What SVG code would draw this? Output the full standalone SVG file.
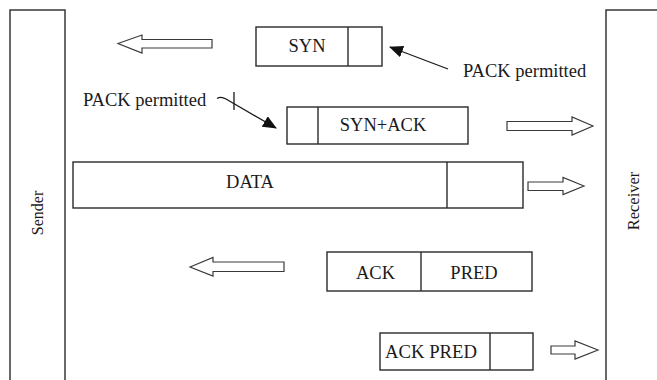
<svg xmlns="http://www.w3.org/2000/svg" width="657" height="380" viewBox="0 0 657 380">
<style>
.b{fill:#fff;stroke:#2a2a2a;stroke-width:1.4}
.d{stroke:#2a2a2a;stroke-width:1.4;fill:none}
.ba{fill:#fff;stroke:#3a3a3a;stroke-width:1.2;stroke-linejoin:miter}
.ln{stroke:#1a1a1a;stroke-width:1.3;fill:none}
</style>
<defs>
<marker id="ah2" viewBox="0 0 14 12" refX="13" refY="6" markerWidth="14" markerHeight="12" markerUnits="userSpaceOnUse" orient="auto">
<path d="M0,0 L14,6 L0,12 Z" fill="#111"/>
</marker>
</defs>
<rect width="657" height="380" fill="#fff"/>

<g id="sender">
<rect class="b" x="10" y="10" width="55" height="380"/>
<text style="font-family:'Liberation Serif',serif" font-size="16" fill="#1a1a1a" text-anchor="middle" transform="translate(42.5,213) rotate(-90)">Sender</text>
</g>

<g id="receiver">
<rect class="b" x="606" y="10" width="60" height="380"/>
<text style="font-family:'Liberation Serif',serif" font-size="16.5" fill="#1a1a1a" text-anchor="middle" transform="translate(638.5,201) rotate(-90)">Receiver</text>
</g>

<g id="syn">
<rect class="b" x="256" y="27" width="126" height="39"/>
<line class="d" x1="348" y1="27" x2="348" y2="66"/>
<text style="font-family:'Liberation Serif',serif" font-size="18.5" fill="#1a1a1a" x="307" y="52" text-anchor="middle">SYN</text>
</g>

<g id="synack">
<rect class="b" x="287" y="107" width="181" height="37"/>
<line class="d" x1="318" y1="107" x2="318" y2="144"/>
<text style="font-family:'Liberation Serif',serif" font-size="18.5" fill="#1a1a1a" x="383" y="130.5" text-anchor="middle">SYN+ACK</text>
</g>

<g id="data">
<rect class="b" x="73" y="162" width="450" height="46"/>
<line class="d" x1="447" y1="162" x2="447" y2="208"/>
<text style="font-family:'Liberation Serif',serif" font-size="18.5" fill="#1a1a1a" x="250" y="188" text-anchor="middle">DATA</text>
</g>

<g id="ackpred">
<rect class="b" x="327" y="252" width="205" height="39"/>
<line class="d" x1="421" y1="252" x2="421" y2="291"/>
<text style="font-family:'Liberation Serif',serif" font-size="18.5" fill="#1a1a1a" x="375.5" y="279" text-anchor="middle">ACK</text>
<text style="font-family:'Liberation Serif',serif" font-size="18.5" fill="#1a1a1a" x="474" y="279" text-anchor="middle">PRED</text>
</g>

<g id="ackpred2">
<rect class="b" x="380" y="333" width="153" height="37"/>
<line class="d" x1="490" y1="333" x2="490" y2="370"/>
<text style="font-family:'Liberation Serif',serif" font-size="18.5" fill="#1a1a1a" x="431" y="358" text-anchor="middle" textLength="92" lengthAdjust="spacingAndGlyphs">ACK PRED</text>
</g>

<g id="label-pack-right">
<text style="font-family:'Liberation Serif',serif" font-size="18.5" fill="#1a1a1a" x="463" y="77">PACK permitted</text>
</g>
<g id="label-pack-left">
<text style="font-family:'Liberation Serif',serif" font-size="18.5" fill="#1a1a1a" x="83" y="105.5">PACK permitted</text>
</g>

<g id="connectors">
<polygon class="ba" points="118,43.5 142,35 142,39.5 212,39.5 212,48 142,48 142,53"/>
<polygon class="ba" points="593,126 572,117 572,121.5 507,121.5 507,130.5 572,130.5 572,135"/>
<polygon class="ba" points="584,186 563,177.5 563,182 528,182 528,190.5 563,190.5 563,194.5"/>
<polygon class="ba" points="190,267 213,257.5 213,262 284,262 284,271.5 213,271.5 213,276"/>
<polygon class="ba" points="598,350 575,341 575,346 551,346 551,354 575,354 575,359"/>
<line class="ln" x1="448" y1="69" x2="390" y2="47" marker-end="url(#ah2)"/>
<path class="ln" d="M217,98.5 Q221,96 226,99 L276,128" marker-end="url(#ah2)"/>
<line class="ln" x1="234" y1="92" x2="234" y2="110"/>
</g>
</svg>
